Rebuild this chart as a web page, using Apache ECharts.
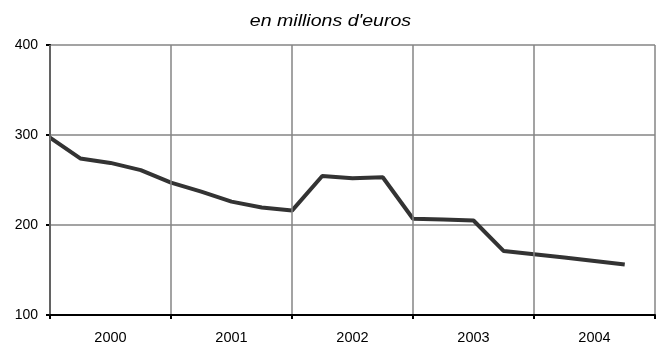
<!DOCTYPE html>
<html>
<head>
<meta charset="utf-8">
<script src="https://cdn.jsdelivr.net/npm/echarts@6/dist/echarts.min.js"></script>
<style>
  html, body { margin: 0; padding: 0; background: #fff; }
  #chart { width: 657px; height: 345px; }
</style>
</head>
<body>
<div id="chart"></div>
<script>
// Years shown along the bottom axis
const years = ['2000', '2001', '2002', '2003', '2004'];
// Quarterly amounts, in millions of euros (4 per year, last quarter of 2004 missing)
const quarterlyValues = [
  297, 274, 269, 261,
  247, 237, 226, 219.5,
  216, 254.5, 252, 253,
  207, 206, 205, 171,
  167.5, 164, 160, 156
];
// Y-axis tick marks
const yTicks = [100, 200, 300, 400];
const titleText = 'en millions d\'euros';

const seriesData = quarterlyValues.map((v, i) => [i, v]);
const font = 'Liberation Sans, Arial, sans-serif';

const chart = echarts.init(document.getElementById('chart'), null, { renderer: 'canvas' });
chart.setOption({
  animation: false,
  backgroundColor: '#fff',
  graphic: [{
    type: 'text',
    x: 330.5,
    y: 21,
    scaleX: 1.15,
    originX: 0,
    style: {
      text: titleText,
      x: 0,
      y: 0,
      fontFamily: font,
      fontStyle: 'italic',
      fontSize: 17,
      fill: '#000',
      align: 'center',
      verticalAlign: 'middle'
    }
  }],
  grid: { left: 50, right: 2, top: 45, bottom: 27, containLabel: false },
  xAxis: [
    {
      type: 'category',
      data: years,
      boundaryGap: true,
      axisLine: { show: true, lineStyle: { color: '#000', width: 2 } },
      axisTick: { show: true, length: 4, alignWithLabel: false, lineStyle: { color: '#000', width: 2 } },
      axisLabel: { fontFamily: font, fontSize: 14.5, color: '#000', margin: 15 },
      splitLine: { show: true, lineStyle: { color: '#858585', width: 1.5 } },
      z: 3
    },
    {
      type: 'value',
      min: 0,
      max: 20,
      show: false
    }
  ],
  yAxis: {
    type: 'value',
    min: yTicks[0],
    max: yTicks[yTicks.length - 1],
    interval: 100,
    axisLine: { show: true, lineStyle: { color: '#000', width: 2 } },
    axisTick: { show: true, length: 4, lineStyle: { color: '#000', width: 2 } },
    axisLabel: { fontFamily: font, fontSize: 14, color: '#000', margin: 12 },
    splitLine: { show: true, lineStyle: { color: '#858585', width: 1.5 } }
  },
  series: [{
    type: 'line',
    xAxisIndex: 1,
    data: seriesData,
    symbol: 'none',
    lineStyle: { color: '#333333', width: 4 },
    z: 2
  }]
});
</script>
</body>
</html>
